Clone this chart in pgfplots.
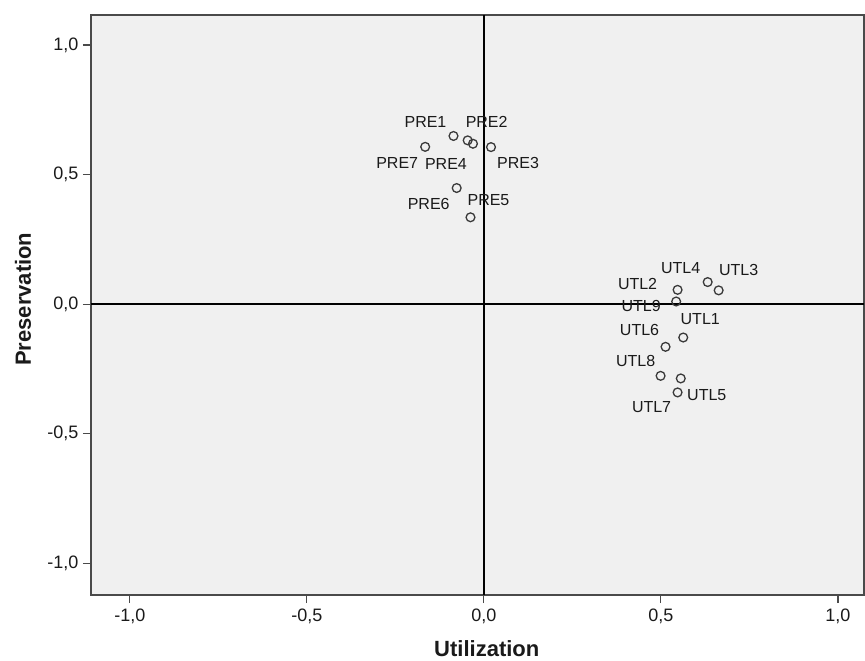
\documentclass[border=0pt]{standalone}
\usepackage{pgfplots}
\pgfplotsset{compat=1.18}
\usepackage{fontspec}
\setmainfont{Liberation Sans}
\definecolor{bgcol}{HTML}{F0F0F0}
\definecolor{framecol}{HTML}{4A4A4A}
\definecolor{markcol}{HTML}{3A3A3A}
\definecolor{txtcol}{HTML}{1A1A1A}
\begin{document}
\begin{tikzpicture}
\begin{axis}[
  scale only axis,
  width=773pt, height=580pt,
  xmin=-1.11, xmax=1.0736,
  ymin=-1.123, ymax=1.116,
  axis background/.style={fill=bgcol},
  axis line style={framecol, line width=1.2pt},
  xtick={-1,-0.5,0,0.5,1},
  ytick={-1,-0.5,0,0.5,1},
  xtick pos=bottom, ytick pos=left,
  tick align=outside,
  major tick length=8pt,
  tick style={framecol, line width=1.1pt},
  /pgf/number format/assume math mode=true,
  /pgf/number format/use comma,
  /pgf/number format/fixed,
  /pgf/number format/fixed zerofill,
  /pgf/number format/precision=1,
  ticklabel style={font=\fontsize{18}{20}\selectfont, text=txtcol},
  xticklabel style={yshift=-2pt},
  yticklabel style={xshift=-1pt},
  xlabel={Utilization},
  ylabel={Preservation},
  every axis x label/.style={at={(axis description cs:0.512,-0.0983)}, anchor=center, yshift=3pt, font=\fontsize{22}{24}\selectfont\bfseries, text=txtcol},
  every axis y label/.style={at={(axis description cs:-0.0880,0.51)}, anchor=center, rotate=90, font=\fontsize{22}{24}\selectfont\bfseries, text=txtcol},
  clip=false,
]
\addplot[black, line width=1.3pt, forget plot] coordinates {(0,-1.123) (0,1.116)};
\addplot[black, line width=1.3pt, forget plot] coordinates {(-1.11,0) (1.0736,0)};
\addplot[only marks, mark=o, mark size=4.4pt, mark options={markcol, line width=1.3pt, fill=none},
  nodes near coords, point meta=explicit symbolic,
  nodes near coords align={center},
  visualization depends on={value \thisrow{dx}\as\dx},
  visualization depends on={value \thisrow{dy}\as\dy},
  every node near coord/.append style={anchor=center, xshift=\dx pt, yshift=\dy pt, font=\fontsize{16}{18}\selectfont, text=txtcol, inner sep=0pt},
] table[x=x, y=y, meta=label] {
x y label dx dy
-0.086 0.649 PRE1 -28 14
-0.046 0.632 PRE2 19 18
-0.031 0.619 PRE4 -27 -20
0.020 0.606 PRE3 27 -16
-0.166 0.607 PRE7 -28 -16
-0.077 0.448 PRE6 -28 -16
-0.038 0.335 PRE5 18 17
0.547 0.055 UTL2 -40 6
0.632 0.085 UTL4 -27 14
0.663 0.053 UTL3 20 20
0.543 0.010 UTL9 -35 -4
0.563 -0.129 UTL1 17 18
0.513 -0.165 UTL6 -26 17
0.499 -0.277 UTL8 -25 15
0.556 -0.287 UTL5 26 -17
0.547 -0.341 UTL7 -26 -15
};
\coordinate (bl) at (rel axis cs:0,0);
\coordinate (tr) at (rel axis cs:1,1);
\end{axis}
\pgfresetboundingbox
\path ([xshift=-91pt,yshift=-66pt]bl) rectangle ([xshift=1pt,yshift=15pt]tr);
\end{tikzpicture}
\end{document}
